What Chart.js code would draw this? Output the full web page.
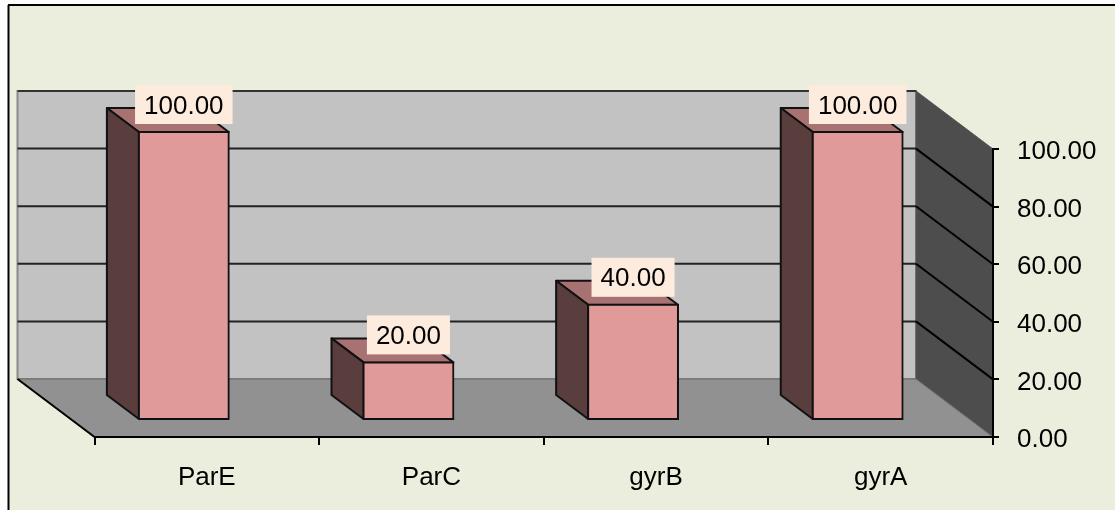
<!DOCTYPE html>
<html>
<head>
<meta charset="utf-8">
<style>
  html, body { margin: 0; padding: 0; background: #fdfdfd; }
  canvas { display: block; }
</style>
<script src="https://cdn.jsdelivr.net/npm/chart.js@4"></script>
</head>
<body>
<canvas id="chart" width="1115" height="510"></canvas>
<script>
const categories = ['ParE', 'ParC', 'gyrB', 'gyrA'];
const values = [100, 20, 40, 100];
const yMin = 0;
const yMax = 100;
const yStep = 20;

const FONT = '"Liberation Sans", Arial, sans-serif';
const FONT_SIZE = 26;

// box depth of the fake 3d view, in pixels
const wallDepth = { x: 77, y: 58 };
const barDepth = { x: 32, y: 24 };
const barShift = { x: 23, y: 17 };

function poly(ctx, points, fill, stroke, lineWidth) {
  ctx.beginPath();
  points.forEach((p, i) => (i ? ctx.lineTo(p[0], p[1]) : ctx.moveTo(p[0], p[1])));
  ctx.closePath();
  if (fill) {
    ctx.fillStyle = fill;
    ctx.fill();
  }
  if (stroke) {
    ctx.strokeStyle = stroke;
    ctx.lineWidth = lineWidth || 1;
    ctx.stroke();
  }
}

function line(ctx, x1, y1, x2, y2, color, width) {
  ctx.beginPath();
  ctx.moveTo(x1, y1);
  ctx.lineTo(x2, y2);
  ctx.strokeStyle = color;
  ctx.lineWidth = width;
  ctx.stroke();
}

const box3d = {
  id: 'box3d',
  beforeDraw(chart) {
    const { ctx, chartArea: a, scales } = chart;
    const dx = wallDepth.x;
    const dy = wallDepth.y;
    ctx.save();

    // chart panel and its frame, right and bottom run off the picture
    ctx.fillStyle = '#ebeedd';
    ctx.fillRect(9, 5, chart.width - 9, chart.height - 5);
    line(ctx, 8.5, 5, 8.5, chart.height, '#000', 2);
    line(ctx, 8, 5, chart.width, 5, '#000', 2);

    // back wall, right wall, floor
    poly(ctx, [[a.left - dx, a.top - dy], [a.right - dx, a.top - dy], [a.right - dx, a.bottom - dy], [a.left - dx, a.bottom - dy]], '#c2c2c2', '#8a8a8a', 2);
    poly(ctx, [[a.right - dx, a.top - dy], [a.right, a.top], [a.right, a.bottom], [a.right - dx, a.bottom - dy]], '#4d4d4d', '#555', 1);
    poly(ctx, [[a.left - dx, a.bottom - dy], [a.right - dx, a.bottom - dy], [a.right, a.bottom], [a.left, a.bottom]], '#919191', '#6a6a6a', 1);
    line(ctx, a.left - dx, a.top - dy, a.right - dx, a.top - dy, '#333', 2);
    line(ctx, a.left - dx, a.bottom - dy, a.left, a.bottom, '#000', 2);

    // gridlines go along the back wall and down the right wall
    for (let v = yMin + yStep; v < yMax; v += yStep) {
      const y = scales.y.getPixelForValue(v);
      line(ctx, a.left - dx, y - dy, a.right - dx, y - dy, '#222', 2);
      line(ctx, a.right - dx, y - dy, a.right, y, '#000', 2);
    }
    ctx.restore();
  },
  beforeDatasetsDraw(chart) {
    const ctx = chart.ctx;
    ctx.save();
    ctx.translate(-barShift.x, -barShift.y);
    chart.getDatasetMeta(0).data.forEach(bar => {
      const { x, y, base, width } = bar.getProps(['x', 'y', 'base', 'width'], true);
      const l = x - width / 2;
      const r = x + width / 2;
      const dx = barDepth.x;
      const dy = barDepth.y;
      ctx.lineJoin = 'round';
      poly(ctx, [[l, y], [r, y], [r - dx, y - dy], [l - dx, y - dy]], '#a87272', '#111', 2);
      poly(ctx, [[l, y], [l - dx, y - dy], [l - dx, base - dy], [l, base]], '#5a3d3d', '#111', 2);
    });
  },
  afterDatasetsDraw(chart) {
    const ctx = chart.ctx;
    // value labels sit on top of the bars, still in the shifted coordinates
    ctx.font = FONT_SIZE + 'px ' + FONT;
    ctx.textAlign = 'center';
    ctx.textBaseline = 'middle';
    chart.getDatasetMeta(0).data.forEach((bar, i) => {
      const { x, y } = bar.getProps(['x', 'y'], true);
      const text = values[i].toFixed(2);
      const w = ctx.measureText(text).width + 18;
      ctx.fillStyle = '#fdebde';
      ctx.fillRect(x - w / 2, y - 47, w, 39);
      ctx.fillStyle = '#000';
      ctx.fillText(text, x, y - 25.5);
    });
    ctx.restore();
  }
};

new Chart(document.getElementById('chart'), {
  type: 'bar',
  data: {
    labels: categories,
    datasets: [{
      data: values,
      backgroundColor: '#e09a9a',
      borderColor: '#111',
      borderWidth: 2,
      borderSkipped: false,
      inflateAmount: 1,
      barPercentage: 0.4,
      categoryPercentage: 1,
      clip: false
    }]
  },
  plugins: [box3d],
  options: {
    responsive: false,
    animation: false,
    layout: { padding: { left: 94.5, top: 149, right: 0, bottom: 0 } },
    plugins: {
      legend: { display: false },
      title: { display: false },
      tooltip: { enabled: false }
    },
    scales: {
      x: {
        grid: { drawOnChartArea: false, color: '#000', lineWidth: 2, tickLength: 8 },
        border: { color: '#000', width: 2 },
        ticks: { color: '#000', font: { family: FONT, size: FONT_SIZE }, padding: 17, maxRotation: 0 },
        afterFit(scale) { scale.height = 73; }
      },
      y: {
        position: 'right',
        min: yMin,
        max: yMax,
        grid: { drawOnChartArea: false, color: '#000', lineWidth: 2, tickLength: 6 },
        border: { color: '#000', width: 2 },
        ticks: {
          stepSize: yStep,
          color: '#000',
          font: { family: FONT, size: FONT_SIZE },
          padding: 18,
          callback: v => v.toFixed(2)
        },
        afterFit(scale) { scale.width = 122; },
        afterUpdate(scale) {
          // labels sit a touch lower than the ticks in the original
          const drawLabels = scale.drawLabels.bind(scale);
          scale.drawLabels = area => {
            scale.ctx.save();
            scale.ctx.translate(0, 1.5);
            drawLabels(area);
            scale.ctx.restore();
          };
        }
      }
    }
  }
});
</script>
</body>
</html>
